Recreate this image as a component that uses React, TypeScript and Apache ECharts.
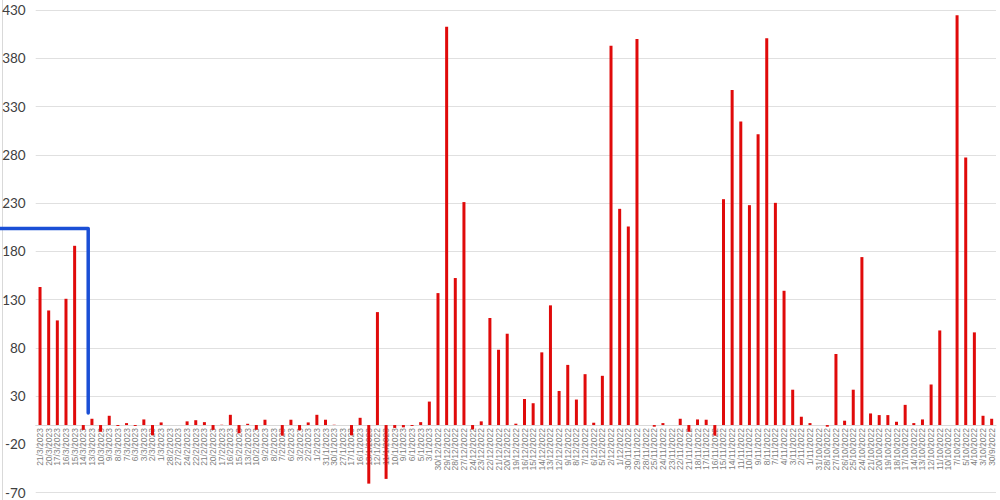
import React, { useEffect, useRef } from "react";
import * as echarts from "echarts";

const dates: string[] = [
  "21/3/2023", "20/3/2023", "17/3/2023", "16/3/2023", "15/3/2023", "14/3/2023", "13/3/2023", "10/3/2023", "9/3/2023", "8/3/2023",
  "7/3/2023", "6/3/2023", "3/3/2023", "2/3/2023", "1/3/2023", "28/2/2023", "27/2/2023", "24/2/2023", "22/2/2023", "21/2/2023",
  "20/2/2023", "17/2/2023", "16/2/2023", "15/2/2023", "13/2/2023", "10/2/2023", "9/2/2023", "8/2/2023", "7/2/2023", "6/2/2023",
  "3/2/2023", "2/2/2023", "1/2/2023", "31/1/2023", "30/1/2023", "27/1/2023", "17/1/2023", "16/1/2023", "13/1/2023", "12/1/2022",
  "11/1/2023", "10/1/2023", "9/1/2023", "6/1/2023", "5/1/2023", "3/1/2023", "30/12/2022", "29/12/2022", "28/12/2022", "27/12/2022",
  "24/12/2022", "23/12/2022", "22/12/2022", "21/12/2022", "20/12/2022", "19/12/2022", "16/12/2022", "15/12/2022", "14/12/2022", "13/12/2022",
  "12/12/2022", "9/12/2022", "8/12/2022", "7/12/2022", "6/12/2022", "5/12/2022", "2/12/2022", "1/12/2022", "30/11/2022", "29/11/2022",
  "28/11/2022", "25/11/2022", "24/11/2022", "23/11/2022", "22/11/2022", "21/11/2022", "18/11/2022", "17/11/2022", "16/11/2022", "15/11/2022",
  "14/11/2022", "11/11/2022", "10/11/2022", "9/11/2022", "8/11/2022", "7/11/2022", "4/11/2022", "3/11/2022", "2/11/2022", "1/11/2022",
  "31/10/2022", "28/10/2022", "27/10/2022", "26/10/2022", "25/10/2022", "24/10/2022", "21/10/2022", "20/10/2022", "19/10/2022", "18/10/2022",
  "17/10/2022", "14/10/2022", "13/10/2022", "12/10/2022", "11/10/2022", "10/10/2022", "7/10/2022", "5/10/2022", "4/10/2022", "3/10/2022",
  "30/9/2022",
];

const values: number[] = [
  143, 118.7, 108.4, 130.8, 185.7, -5, 6.5, -7, 9.6, -1,
  2, -1, 5.8, -10.6, 2.7, 0, 0, 3.8, 5, 3,
  -5, 0.3, 10.6, -8.5, 1.3, -4.8, 5.5, 0, -11, 5.5,
  -5.5, 2.7, 10.6, 5.5, 0.3, 0, -10.6, 7.5, -60.7, 117,
  -55.8, -3, -2.4, -1, 3, 24.3, 136.7, 412.7, 152.3, 231,
  -4.5, 3.8, 110.9, 78, 94.6, 1.4, 27, 22.6, 75.3, 124,
  35.3, 62.3, 26.4, 52.7, 2.4, 51, 393, 224, 205.7, 400,
  0, -1.7, 2, 0, 6.5, -7, 5.8, 5.5, -11, 234,
  347.2, 314.4, 227.8, 301.3, 400.7, 230.2, 139.1, 36.6, 8.6, 2,
  0, -1.7, 73.6, 4.5, 36.6, 174, 12, 10.3, 10.3, 3.4,
  20.9, 2, 5.8, 42, 98, 0, 424.5, 277.1, 96, 9.6,
  6.5,
];

const yMin = -70;
const yMax = 430;
const yStep = 50;

// Blue annotation bracket: level (value) and position (category index, fractional)
const bracketLevels: number[] = [203.6, 12.5];
const bracketIndex = 5.57;

export default function App() {
  const ref = useRef<HTMLDivElement>(null);

  useEffect(() => {
    if (!ref.current) return;
    const chart = echarts.init(ref.current, null, { renderer: "svg" });
    chart.setOption({
      animation: false,
      backgroundColor: "#ffffff",
      grid: {
        left: 35.7,
        right: 4,
        top: 10,
        bottom: 7.4,
        containLabel: false,
        outerBoundsMode: "none",
      },
      xAxis: {
        type: "category",
        data: dates,
        position: "bottom",
        offset: 0,
        axisLine: { show: true, onZero: false, lineStyle: { color: "#d9d9d9", width: 1 } },
        axisTick: { show: false },
        axisLabel: {
          interval: 0,
          rotate: 90,
          fontSize: 8.5,
          color: "#808080",
          margin: 3,
          fontFamily: "Liberation Sans, Arial, sans-serif",
        },
        splitLine: { show: false },
      },
      yAxis: {
        type: "value",
        min: yMin,
        max: yMax,
        interval: yStep,
        axisLine: { show: false },
        axisTick: { show: false },
        axisLabel: {
          fontSize: 13.5,
          color: "#404040",
          margin: 10,
          fontFamily: "Lato, Carlito, sans-serif",
        },
        splitLine: { show: true, lineStyle: { color: "#e0e0e0", width: 1 } },
      },
      series: [
        {
          type: "bar",
          data: values,
          barWidth: 3,
          itemStyle: { color: "#e00a0a" },
        },
      ],
    });

    // Place the category axis on the zero line of the value axis
    const yZero = chart.convertToPixel({ yAxisIndex: 0 }, 0) as number;
    const yBottom = chart.convertToPixel({ yAxisIndex: 0 }, yMin) as number;
    chart.setOption({ xAxis: { offset: yZero - yBottom } });

    const i0 = Math.floor(bracketIndex);
    const f = bracketIndex - i0;
    const xa = chart.convertToPixel({ xAxisIndex: 0 }, i0) as number;
    const xb = chart.convertToPixel({ xAxisIndex: 0 }, i0 + 1) as number;
    const bx = xa + (xb - xa) * f;
    const yTop = chart.convertToPixel({ yAxisIndex: 0 }, bracketLevels[0]) as number;
    const yBot = chart.convertToPixel({ yAxisIndex: 0 }, bracketLevels[1]) as number;

    chart.setOption({
      graphic: [
        {
          type: "line",
          shape: { x1: 2.5, y1: 0, x2: 2.5, y2: 500 },
          style: { stroke: "#d9d9d9", lineWidth: 1 },
          silent: true,
        },
        {
          type: "polyline",
          shape: { points: [[0, yTop], [bx, yTop], [bx, yBot]] },
          style: { stroke: "#1a4fd6", lineWidth: 3.5, fill: null, lineJoin: "round", lineCap: "round" },
          silent: true,
        },
      ],
    });

    return () => chart.dispose();
  }, []);

  return (
    <div
      ref={ref}
      style={{ position: "fixed", left: 0, top: 0, width: 1000, height: 500, background: "#fff" }}
    />
  );
}
